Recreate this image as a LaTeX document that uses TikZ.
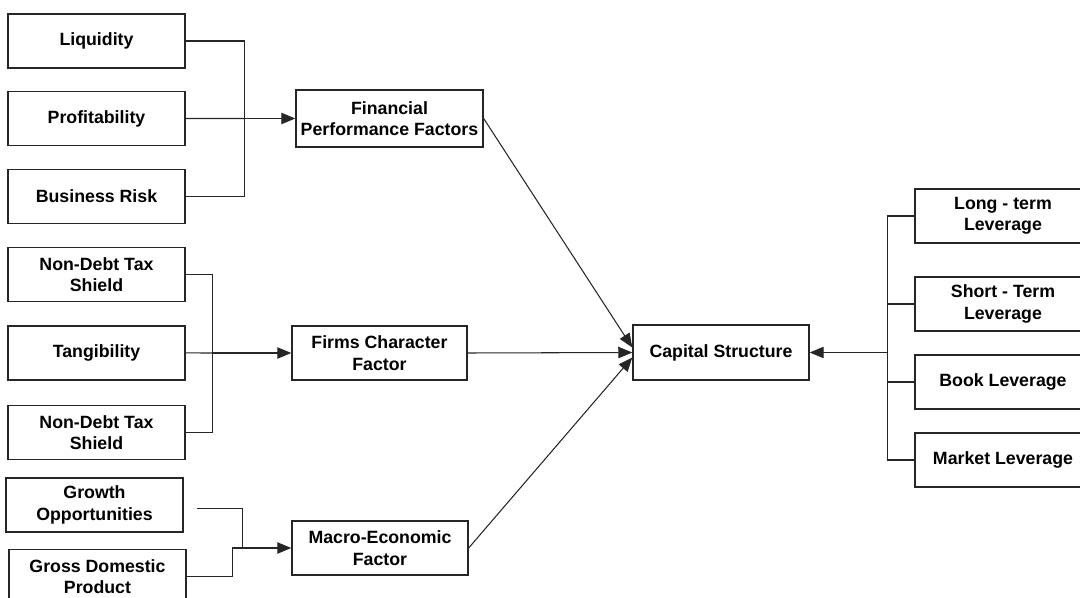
\documentclass[tikz,border=0pt]{standalone}
\usepackage{fontspec}
\setmainfont{Liberation Sans}
\usetikzlibrary{arrows.meta,positioning}

\begin{document}
\begin{tikzpicture}[x=0.02cm,y=-0.02cm]

\tikzset{
	factor/.style={
		draw=black!85,
		rectangle,
		line width=0.8pt,
		align=center,
		minimum width=3.54cm,
		minimum height=1.08cm,
		inner sep=2pt,
		font=\bfseries\fontsize{10.1}{12.2}\selectfont},
	link/.style={
		line width=0.6pt,
		draw=black!85},
	arrout/.style={
		link,
		-{Triangle[length=8pt,width=6.5pt]}}
}

\path[use as bounding box,clip] (0,0) rectangle (1080,598);

% left column
\node[factor] (liq) at (96.5,41) {Liquidity};
\node[factor,below=1.55cm of liq.center,anchor=center] (prof) {Profitability};
\node[factor,below=1.56cm of prof.center,anchor=center] (bus) {Business Risk};
\node[factor,below=1.56cm of bus.center,anchor=center] (ndts) {Non-Debt Tax\\Shield};
\node[factor,below=1.57cm of ndts.center,anchor=center] (tang) {Tangibility};
\node[factor,below=1.59cm of tang.center,anchor=center] (ndtsb) {Non-Debt Tax\\Shield};
\node[factor,below=1.45cm of ndtsb.center,anchor=center,xshift=-0.04cm] (gro) {Growth\\Opportunities};
\node[factor,below=1.43cm of gro.center,anchor=center,xshift=0.06cm] (gdp) {Gross Domestic\\Product};

% middle column
\node[factor,minimum width=3.74cm,minimum height=1.14cm] (fpf) at (389.5,118.5) {Financial\\Performance Factors};
\node[factor,minimum width=3.5cm] (fcf) at (379.5,353) {Firms Character\\Factor};
\node[factor,minimum width=3.52cm] (mef) at (380,548) {Macro-Economic\\Factor};

\node[factor,minimum width=3.52cm,minimum height=1.1cm] (cs) at (721,352.5) {Capital Structure};

% right column
\node[factor,minimum width=3.52cm] (lt) at (1003,216) {Long - term\\Leverage};
\node[factor,minimum width=3.52cm] (st) at (1003,304) {Short - Term\\Leverage};
\node[factor,minimum width=3.52cm] (bl) at (1003,382) {Book Leverage};
\node[factor,minimum width=3.52cm] (ml) at (1003,460) {Market Leverage};

% junctions
\coordinate[left=1.02cm of fpf.west] (ja);
\coordinate[left=1.58cm of fcf.west] (jb);
\coordinate[left=1.18cm of mef.west] (jc);
\coordinate[left=0.98cm of mef.west] (jd);
\coordinate[right=1.56cm of cs.east] (je);

\draw[link] (liq.east) -| (ja);
\draw[link] (bus.east) -| (ja);
\draw[link] (prof.east) -- (ja);
\draw[arrout] (ja) -- (fpf.west);

\draw[link] (ndts.east) -| (jb);
\draw[link] (ndtsb.east) -| (jb);
\draw[link] (tang.east) -- (jb);
\draw[arrout] (jb) -- (fcf.west);

\draw[link] ([xshift=0.26cm,yshift=-0.08cm]gro.east) -| (jd);
\draw[link] (gdp.east) -| (jc);
\draw[arrout] (jc) -- (mef.west);

\draw[arrout] (fpf.east) -- ([yshift=0.1cm]cs.west);
\draw[arrout] (fcf.east) -- (cs.west);
\draw[arrout] (mef.east) -- ([yshift=-0.1cm]cs.west);

\draw[link] (lt.west) -| (je);
\draw[link] (ml.west) -| (je);
\draw[link] (st.west) -- (st.west -| je);
\draw[link] (bl.west) -- (bl.west -| je);
\draw[arrout] (je) -- (cs.east);

\end{tikzpicture}
\end{document}
